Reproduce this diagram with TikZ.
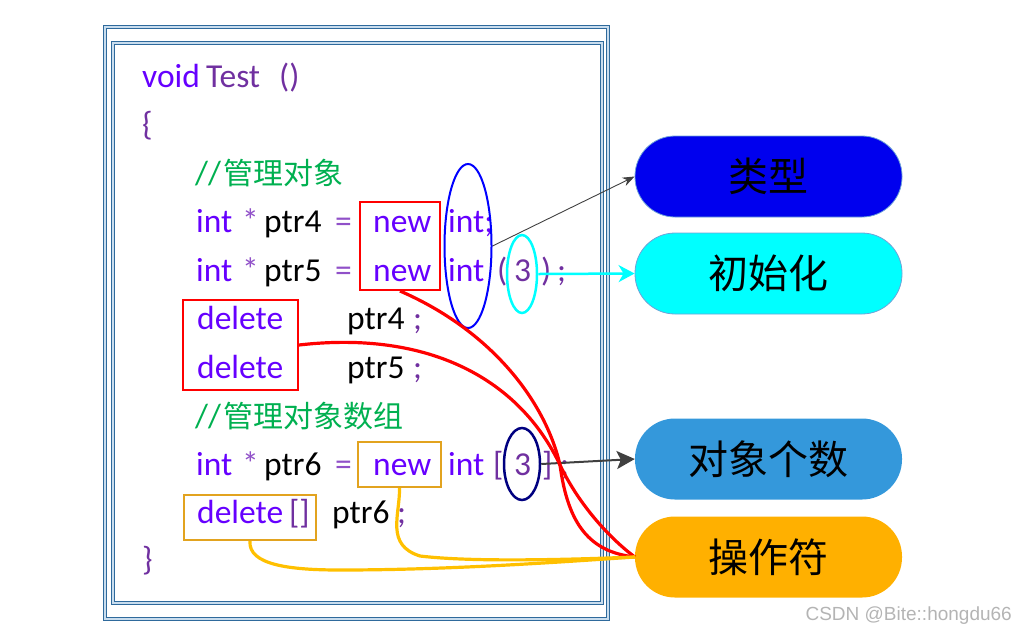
\documentclass[tikz,border=0pt]{standalone}
\usepackage{fontspec}
\setmainfont{Carlito}
\newfontfamily\cjk{Noto Sans CJK SC}
\newfontfamily\wmfont{Liberation Sans}
\usetikzlibrary{shapes.geometric,arrows.meta}
\definecolor{vio}{HTML}{6600FF}
\definecolor{pur}{HTML}{7030A0}
\definecolor{purl}{HTML}{9050C8}
\definecolor{grn}{HTML}{00B050}
\definecolor{frm}{HTML}{2F6A9C}
\definecolor{frml}{HTML}{C9DDEE}
\definecolor{redc}{HTML}{FF0000}
\definecolor{orgb}{HTML}{E2A31F}
\definecolor{orgl}{HTML}{FFC000}
\definecolor{navy}{HTML}{000080}
\definecolor{elblue}{HTML}{0000FF}
\definecolor{elcyan}{HTML}{00FFFF}
\definecolor{arr}{HTML}{404040}
\definecolor{bxblue}{HTML}{0000EE}
\definecolor{bxcyan}{HTML}{00FFFF}
\definecolor{bxsky}{HTML}{3498DB}
\definecolor{bxorg}{HTML}{FFB000}
\definecolor{bxline}{HTML}{6FA3D8}
\definecolor{wmgray}{HTML}{B4B4B4}
\begin{document}
\begin{tikzpicture}[x=1pt,y=-1pt,
  tok/.style={anchor=base west, inner sep=0pt, font=\fontsize{33.5}{33.5}\selectfont},
  cmt/.style={anchor=base west, inner sep=0pt, text=grn, font=\cjk\fontsize{30}{30}\selectfont},
  frame/.style={draw=frm, line width=1.1pt, double=frml, double distance=1.1pt},
  rbox/.style={draw=redc, line width=2pt, rectangle, inner sep=0pt},
  obox/.style={draw=orgb, line width=2pt, rectangle, inner sep=0pt},
  pill/.style={rectangle, rounded corners=40pt, minimum width=267pt, minimum height=81pt,
    inner sep=0pt, text=black, font=\cjk\fontsize{40}{40}\selectfont},
  redline/.style={draw=redc, line width=3.2pt},
  orgline/.style={draw=orgl, line width=3.2pt},
]
\useasboundingbox (0,0) rectangle (1016,633);
% frames
\draw[frame] (105,27) rectangle (608,619);
\draw[frame] (113,43) rectangle (602,603);

% code text
\node[tok,text=vio] (v1) at (142,87) {void};
\node[tok,text=pur] (v2) at (206,87) {Test};
\node[tok,text=pur] (v3) at (279,87) {()};
\node[tok,text=pur] (br1) at (142,135) {\{};
\node[tok,text=grn] (c1s) at (195,184) {//};
\node[cmt] (c1) at (223,184) {管理对象};

\node[tok,text=vio] (a1) at (196,232) {int};
\node[tok,text=purl] (a2) at (242,232) {*};
\node[tok,text=black] (a3) at (264,232) {ptr4};
\node[tok,text=purl] (a4) at (335,232) {=};
\node[tok,text=vio] (a5) at (373,232) {new};
\node[tok,text=vio] (a6) at (448,232) {int;};

\node[tok,text=vio] (b1) at (196,281) {int};
\node[tok,text=purl] (b2) at (242,281) {*};
\node[tok,text=black] (b3) at (264,281) {ptr5};
\node[tok,text=purl] (b4) at (335,281) {=};
\node[tok,text=vio] (b5) at (373,281) {new};
\node[tok,text=vio] (b6) at (448,281) {int};
\node[tok,text=pur] (b7) at (497,281) {(};
\node[tok,text=pur] (b8) at (514,281) {3};
\node[tok,text=pur] (b9) at (541,281) {)};
\node[tok,text=pur] (b10) at (557,281) {;};

\node[tok,text=vio] (d1) at (197,329) {delete};
\node[tok,text=black] (d2) at (347,329) {ptr4};
\node[tok,text=pur] (d3) at (413,329) {;};
\node[tok,text=vio] (e1) at (197,378) {delete};
\node[tok,text=black] (e2) at (347,378) {ptr5};
\node[tok,text=pur] (e3) at (413,378) {;};

\node[tok,text=grn] (c2s) at (195,427) {//};
\node[cmt] (c2) at (223,427) {管理对象数组};

\node[tok,text=vio] (f1) at (196,475) {int};
\node[tok,text=purl] (f2) at (242,475) {*};
\node[tok,text=black] (f3) at (264,475) {ptr6};
\node[tok,text=purl] (f4) at (335,475) {=};
\node[tok,text=vio] (f5) at (373,475) {new};
\node[tok,text=vio] (f6) at (448,475) {int};
\node[tok,text=pur] (f7) at (493,475) {[};
\node[tok,text=pur] (f8) at (514,475) {3};
\node[tok,text=pur] (f9) at (542,475) {]};
\node[tok,text=pur] (f10) at (560,475) {;};

\node[tok,text=vio] (g1) at (197,523) {delete};
\node[tok,text=pur] (g2) at (289,523) {[]};
\node[tok,text=black] (g3) at (332,523) {ptr6};
\node[tok,text=pur] (g4) at (397,523) {;};
\node[tok,text=pur] (br2) at (142,570) {\}};

% boxes
\node[rbox, minimum width=80pt, minimum height=88pt] (nb) at (400,246) {};
\node[rbox, minimum width=115pt, minimum height=90pt] (db) at (240.5,345) {};
\node[obox, minimum width=83pt, minimum height=45pt] (nb6) at (399.5,464.5) {};
\node[obox, minimum width=132pt, minimum height=45pt] (db6) at (250,517.5) {};

% ellipses
\node[draw=elblue, line width=2pt, ellipse, inner sep=0pt, minimum width=47pt, minimum height=164pt] (eT) at (468,246) {};
\node[draw=elcyan, line width=2.5pt, ellipse, inner sep=0pt, minimum width=30pt, minimum height=78pt] (eC) at (522,274) {};
\node[draw=navy, line width=2.5pt, ellipse, inner sep=0pt, minimum width=36pt, minimum height=72pt] (eN) at (522,464) {};

% right pills
\node[pill, fill=bxblue, draw=bxline, line width=0.8pt] (tx) at (768.5,176.5) {类型};
\node[pill, fill=bxcyan, draw=bxline, line width=0.8pt] (ci) at (768.5,273.5) {初始化};
\node[pill, fill=bxsky] (dx) at (768.5,459) {对象个数};
\node[pill, fill=bxorg] (op) at (768.5,557) {操作符};

% arrows
\draw[draw=arr, line width=0.9pt, -{Stealth[length=12pt,width=9pt]}] (eT.east) -- (tx.west);
\draw[draw=elcyan, line width=2.5pt, -{Stealth[length=16pt,width=17pt,inset=5pt]}] (eC.east) -- (ci.west);
\draw[draw=arr, line width=2pt, -{Stealth[length=18pt,width=18pt,inset=4pt]}] (eN.east) -- (dx.west);

% red curves
\draw[redline] (nb.south) .. controls (490,330) and (545,400) .. (560,465) .. controls (568,525) and (590,552) .. (op.west);
\draw[redline] (db.east) .. controls (430,330) and (520,380) .. (560,465) .. controls (580,507) and (612,540) .. (op.west);
% orange curves
\draw[orgline] (nb6.south) .. controls (400,515) and (385,545) .. (420,556) .. controls (470,562) and (560,560) .. (op.west);
\draw[orgline] (db6.south) .. controls (248,565) and (290,570) .. (340,570) .. controls (450,570) and (560,562) .. (op.west);

% watermark
\node[anchor=base east, inner sep=0pt, text=wmgray, font=\wmfont\fontsize{19}{19}\selectfont] (wm) at (1012,620) {CSDN @Bite::hongdu66};
\end{tikzpicture}
\end{document}
